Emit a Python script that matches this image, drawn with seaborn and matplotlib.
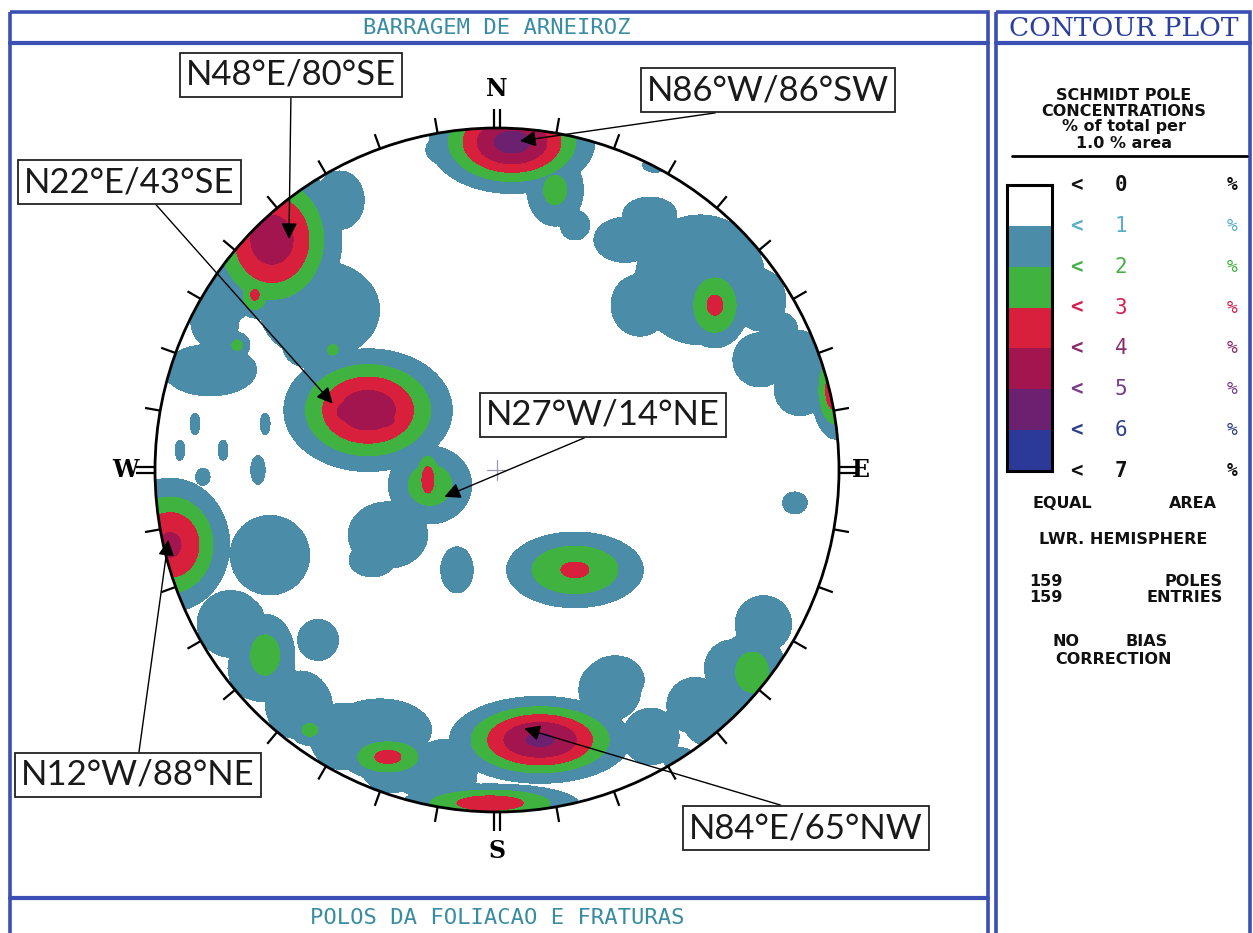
import numpy as np
import matplotlib
matplotlib.use("Agg")
import matplotlib.pyplot as plt
from matplotlib.colors import ListedColormap
from matplotlib.patches import Circle, Rectangle
import seaborn as sns

# ---------------------------------------------------------------
# Pole-concentration peaks on the net (net radius = 100 units):
# centre (u east, v north), spread along u / v, peak % per 1 % area
# ---------------------------------------------------------------
peak_u = [4.4, 17.0, -15.2, 22.8, -65.8, -45.9, -51.8, -70.8, -82.5, -83.9,
          -76.0, -37.7, -44.4, -32.7, -48.0, -20.2, -19.6, -31.9, -36.5, -95.6,
          99.1, 88.6, 82.7, 63.7, 59.4, 44.7, 76.9, 46.2, 22.8, -11.7,
          12.6, 34.5, -2.0, -67.8, -75.1, -54.7, -57.6, -31.9, -34.2, -19.6,
          -52.3, 74.6, 63.7, 53.5, 79.8, 71.6, -66.4, -88.3, -67.8, -92.7,
          -80.1, -86.0, -69.9, 87.1,
          -79.5, -51.8, 37.4, 41.8, 76.9, 88.6, 33.0,
          -77.9, -68.9, -57.9, -45.0, -30.8, -15.6,
          45.0, 57.9, 68.9, 77.9,
          -54.4, 8.0]
peak_v = [95.9, 81.9, 93.6, 71.6, 67.3, 78.9, 46.8, 51.2, 43.9, 29.2,
          36.5, 17.5, 17.0, 14.6, 35.1, -2.9, -4.4, -19.0, -26.3, -21.9,
          23.4, 32.2, 40.9, 48.2, 55.6, 74.6, 32.2, 89.2, -29.2, -29.2,
          -78.9, -61.4, -97.4, -54.1, -43.9, -76.0, -67.3, -83.9, -76.0, -91.2,
          -49.7, -59.1, -73.1, -84.8, -46.8, -71.9, -24.9, 13.5, 13.5, 5.8,
          5.8, -2.0, 0.0, -9.6,
          52.6, 33.6, 67.3, 48.2, 49.7, 23.4, -64.3,
          -45.0, -57.9, -68.9, -77.9, -84.6, -88.6,
          -77.9, -68.9, -57.9, -45.0,
          36.0, 92.0]
spread_u = [13.2, 6.4, 5.8, 6.0, 11.7, 7.3, 16.1, 3.5, 7.3, 13.2,
            2.9, 14.0, 3.5, 4.4, 2.9, 2.9, 8.8, 12.0, 7.5, 10.3,
            4.4, 7.3, 5.8, 6.4, 17.5, 8.8, 8.8, 5.0, 13.2, 5.8,
            14.6, 8.8, 16.1, 6.4, 7.3, 4.4, 8.8, 8.8, 14.6, 8.8,
            7.3, 7.3, 8.8, 5.8, 5.8, 1.8, 12.9, 2.0, 2.0, 2.0,
            2.0, 2.9, 2.9, 5.0,
            8.8, 7.3, 8.8, 8.2, 7.3, 7.3, 8.8,
            9.0, 9.0, 9.0, 9.0, 9.0, 9.0,
            8.0, 8.0, 8.0, 8.0,
            8.0, 10.0]
spread_v = [8.2, 8.2, 4.4, 6.0, 13.5, 8.8, 13.2, 4.4, 8.8, 7.3,
            2.9, 10.2, 3.5, 2.9, 2.9, 6.4, 8.2, 10.0, 5.5, 11.5,
            8.8, 8.8, 5.8, 8.2, 17.5, 5.8, 8.8, 3.0, 7.3, 8.2,
            7.0, 7.3, 3.5, 8.8, 7.3, 3.5, 8.8, 4.4, 8.8, 4.4,
            7.3, 8.8, 7.3, 4.4, 5.8, 1.8, 12.9, 4.4, 4.4, 4.1,
            4.1, 3.5, 5.8, 4.4,
            8.8, 4.4, 6.4, 8.8, 8.8, 7.3, 8.8,
            9.0, 9.0, 9.0, 9.0, 9.0, 9.0,
            8.0, 8.0, 8.0, 8.0,
            6.0, 5.0]
peak_pct = [5.4, 2.3, 1.6, 1.3, 4.6, 1.6, 1.8, 3.2, 1.6, 1.7,
            2.3, 4.7, 5.0, 4.8, 2.3, 3.6, 2.6, 1.6, 1.5, 4.2,
            3.8, 1.6, 1.5, 3.2, 1.8, 1.5, 1.5, 1.3, 3.15, 1.4,
            5.2, 1.6, 3.6, 2.5, 1.6, 2.3, 1.6, 3.3, 1.7, 1.8,
            1.4, 2.5, 1.8, 1.4, 1.5, 3.1, 1.5, 1.3, 1.3, 1.3,
            1.3, 1.3, 1.3, 1.3,
            1.8, 1.6, 1.7, 1.7, 1.7, 1.7, 1.7,
            1.8, 1.8, 1.8, 1.8, 1.8, 1.8,
            1.7, 1.7, 1.7, 1.7,
            1.7, 2.6]

# Labelled planes (strike / dip) and their dip directions
plane_labels = ["N48°E/80°SE", "N22°E/43°SE", "N86°W/86°SW",
                "N27°W/14°NE", "N12°W/88°NE", "N84°E/65°NW"]
plane_dip = [80, 43, 86, 14, 88, 65]
plane_dipdir = [138, 112, 184, 63, 78, 354]

# Contour classes
class_levels = [0, 1, 2, 3, 4, 5, 6, 7]
class_colors = ["#ffffff", "#4b8ca9", "#3fb23f", "#d81f3c",
                "#a3154e", "#6c2170", "#2b3a99"]
class_label_colors = ["#111111", "#5aaec8", "#46b046", "#d42050",
                      "#8a2a6c", "#7a3a8c", "#2c3e8c", "#111111"]

n_poles = 159
n_entries = 159

# ---------------------------------------------------------------
sns.set_style("white")
plt.rcParams["font.family"] = ["DejaVu Sans"]

W, H = 1253, 933
fig = plt.figure(figsize=(W / 100, H / 100), dpi=100)
fig.patch.set_facecolor("white")

# page layer in pixel units (frames and panel text)
bg = fig.add_axes([0, 0, 1, 1])
bg.set_xlim(0, W)
bg.set_ylim(H, 0)
bg.axis("off")

frame_blue = "#3b4fb4"
bg.add_patch(Rectangle((10, 12), 978, 935, fill=False, ec=frame_blue, lw=2.6))
bg.add_patch(Rectangle((996, 12), 254, 935, fill=False, ec=frame_blue, lw=2.6))
bg.plot([10, 988], [43, 43], color=frame_blue, lw=3.0)
bg.plot([10, 988], [898, 898], color=frame_blue, lw=3.0)
bg.plot([996, 1250], [43, 43], color=frame_blue, lw=3.0)

title_teal = "#3a8ca2"
bg.text(497, 28, "BARRAGEM DE ARNEIROZ", ha="center", va="center",
        fontsize=16, color=title_teal, family="DejaVu Sans Mono")
bg.text(497, 918, "POLOS DA FOLIACAO E FRATURAS", ha="center", va="center",
        fontsize=16, color=title_teal, family="DejaVu Sans Mono")
bg.text(1124, 28, "CONTOUR PLOT", ha="center", va="center",
        fontsize=19, color="#2c3f9c", family="DejaVu Serif")

# ---------------- stereonet ----------------
cx, cy, R_px, half = 497, 470, 342, 400
net = fig.add_axes([(cx - half) / W, (H - cy - half) / H, 2 * half / W, 2 * half / H])
lim = 100 * half / R_px
net.set_xlim(-lim, lim)
net.set_ylim(-lim, lim)
net.axis("off")

gu = np.linspace(-104, 104, 417)
U, V = np.meshgrid(gu, gu)
D = np.zeros_like(U)
for u0, v0, su, sv, p in zip(peak_u, peak_v, spread_u, spread_v, peak_pct):
    D = np.maximum(D, p * np.exp(-0.5 * (((U - u0) / su) ** 2 + ((V - v0) / sv) ** 2)))

rim = Circle((0, 0), 100, transform=net.transData)
cs = net.contourf(U, V, D, levels=class_levels[1:], colors=class_colors[1:], zorder=1)
cs.set_clip_path(rim)

net.add_patch(Circle((0, 0), 100, fill=False, ec="black", lw=2.0, zorder=3))

# ticks every 10 degrees, doubled at the cardinal points
for az in range(0, 360, 10):
    s, c = np.sin(np.radians(az)), np.cos(np.radians(az))
    if az % 90 == 0:
        for off in (-0.9, 0.9):
            ox, oy = c * off, -s * off
            net.plot([100 * s + ox, 105.5 * s + ox], [100 * c + oy, 105.5 * c + oy],
                     color="black", lw=1.6, zorder=3, solid_capstyle="butt")
    else:
        net.plot([100 * s, 104.5 * s], [100 * c, 104.5 * c],
                 color="black", lw=1.6, zorder=3, solid_capstyle="butt")

for lab, (tu, tv) in zip(["N", "E", "S", "W"], [(0, 111.5), (106.5, 0), (0, -111.5), (-108.5, 0)]):
    net.text(tu, tv, lab, ha="center", va="center", fontsize=17,
             family="DejaVu Serif", weight="bold", color="black", zorder=4)

net.plot([-3, 3], [0, 0], color="#9a9aa8", lw=0.9, zorder=2)
net.plot([0, 0], [-3, 3], color="#9a9aa8", lw=0.9, zorder=2)

# labelled poles: equal-area lower hemisphere projection of each plane's pole
label_pos = [(291, 75), (129, 182), (768, 90), (603, 415), (138, 775), (806, 828)]
label_rel = [(0.5, 0.0), (0.6, 0.0), (0.48, 0.0), (0.49, 0.0), (0.5, 1.0), (0.49, 1.0)]
for lab, dip, ddir, pos, rp in zip(plane_labels, plane_dip, plane_dipdir, label_pos, label_rel):
    trend = np.radians((ddir + 180) % 360)
    r = 100 * np.sqrt(2) * np.sin(np.radians(dip) / 2)
    pu, pv = r * np.sin(trend), r * np.cos(trend)
    net.annotate(lab, xy=(pu, pv), xycoords="data", xytext=pos, textcoords=bg.transData,
                 ha="center", va="center", fontsize=25, family="Lato", color="#1a1a1a",
                 bbox=dict(boxstyle="square,pad=0.18", fc="white", ec="#222222", lw=1.3),
                 arrowprops=dict(arrowstyle="-|>", color="black", lw=1.0, mutation_scale=24,
                                 shrinkA=0, shrinkB=0, relpos=rp),
                 annotation_clip=False, zorder=6)

# ---------------- side panel ----------------
bold = dict(ha="center", va="center", fontsize=11.5, weight="bold", color="#111111",
            family="DejaVu Sans")
for txt, y in [("SCHMIDT POLE", 95), ("CONCENTRATIONS", 111), ("% of total per", 127), ("1.0 % area", 143)]:
    bg.text(1124, y, txt, **bold)
bg.plot([1012, 1247], [156, 156], color="black", lw=2.0)

box_top, box_bot = 185, 471
leg = fig.add_axes([1007 / W, (H - box_bot) / H, 45 / W, (box_bot - box_top) / H])
sns.heatmap(np.arange(7).reshape(7, 1), cmap=ListedColormap(class_colors), vmin=-0.5, vmax=6.5,
            cbar=False, ax=leg, xticklabels=False, yticklabels=False)
for sp in leg.spines.values():
    sp.set_visible(True)
    sp.set_color("black")
    sp.set_linewidth(2.2)

step = (box_bot - box_top) / 7
for i, lev in enumerate(class_levels):
    y = box_top + i * step
    col = class_label_colors[i]
    w = "bold" if i in (0, 7) else "normal"
    bg.text(1076, y, "<", ha="center", va="center", fontsize=15, color=col, weight="bold",
            family="DejaVu Sans Mono")
    bg.text(1121, y, str(lev), ha="center", va="center", fontsize=15, color=col, weight=w,
            family="DejaVu Sans Mono")
    bg.text(1232, y, "%", ha="center", va="center", fontsize=13, color=col, weight=w,
            family="DejaVu Sans Mono")

bg.text(1062, 503, "EQUAL", **bold)
bg.text(1193, 503, "AREA", **bold)
bg.text(1123, 540, "LWR. HEMISPHERE", **bold)
bg.text(1046, 581, str(n_poles), **bold)
bg.text(1046, 598, str(n_entries), **bold)
bg.text(1223, 581, "POLES", **{**bold, "ha": "right"})
bg.text(1223, 598, "ENTRIES", **{**bold, "ha": "right"})
bg.text(1066, 642, "NO", **bold)
bg.text(1147, 642, "BIAS", **bold)
bg.text(1113, 659, "CORRECTION", **bold)

fig.savefig("out.png", dpi=100, facecolor="white")
